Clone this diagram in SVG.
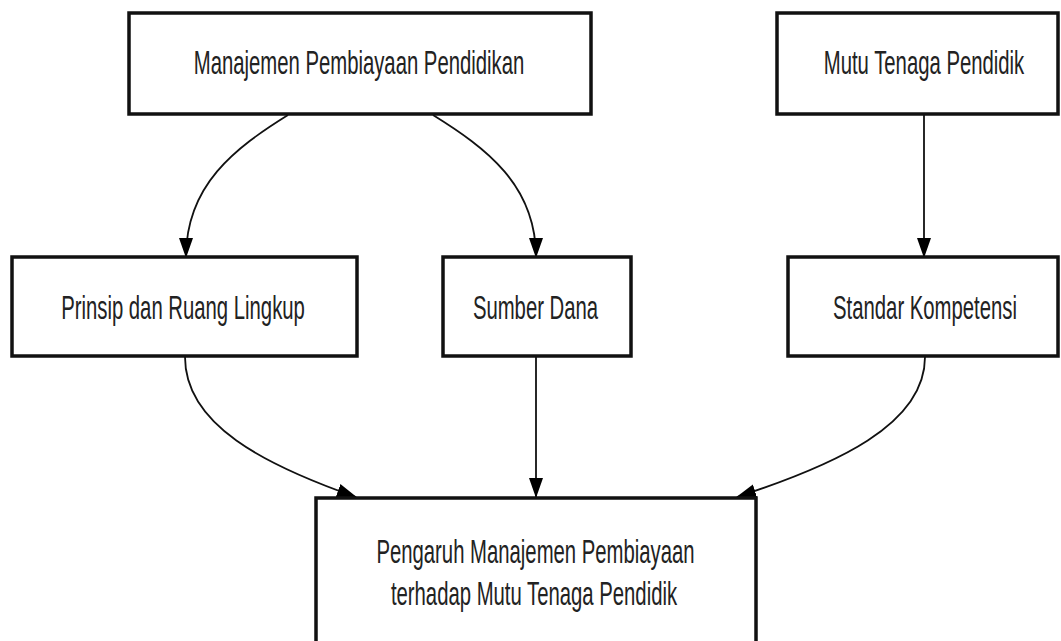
<svg xmlns="http://www.w3.org/2000/svg" width="1061" height="641" viewBox="0 0 1061 641">
<style>
.box{fill:#fff;stroke:#111;stroke-width:3.5}
.t{font-family:"Liberation Sans",Arial,sans-serif;font-size:20.3px;fill:#222;text-anchor:middle}
.c{fill:none;stroke:#111;stroke-width:1.8}
</style>
<defs>
<marker id="ah" markerUnits="userSpaceOnUse" markerWidth="22" markerHeight="16" refX="19" refY="7" orient="auto">
<path d="M0,0 L20,7 L0,14 z" fill="#000"/>
</marker>
</defs>
<rect width="1061" height="641" fill="#fff"/>
<g id="connectors">
<path class="c" d="M288,115 C235,148 186,185 186,257" marker-end="url(#ah)"/>
<path class="c" d="M433,115 C486,148 536,185 536,257" marker-end="url(#ah)"/>
<path class="c" d="M924,115 L924,257" marker-end="url(#ah)"/>
<path class="c" d="M185,357 C185,425 265,465 356,497" marker-end="url(#ah)"/>
<path class="c" d="M536,357 L536,497" marker-end="url(#ah)"/>
<path class="c" d="M925,357 C925,425 835,465 737,497" marker-end="url(#ah)"/>
</g>
<g id="n1"><rect class="box" x="129" y="13" width="462" height="101"/><text class="t" transform="translate(359,74) scale(1,1.65)">Manajemen Pembiayaan Pendidikan</text></g>
<g id="n2"><rect class="box" x="777" y="13" width="281" height="101"/><text class="t" transform="translate(924,74) scale(1,1.65)">Mutu Tenaga Pendidik</text></g>
<g id="n3"><rect class="box" x="12" y="257" width="345" height="99"/><text class="t" transform="translate(183,319) scale(1,1.65)">Prinsip dan Ruang Lingkup</text></g>
<g id="n4"><rect class="box" x="443" y="257" width="188" height="99"/><text class="t" transform="translate(535.5,319) scale(1,1.65)">Sumber Dana</text></g>
<g id="n5"><rect class="box" x="788" y="257" width="270" height="99"/><text class="t" transform="translate(925,319) scale(1,1.65)">Standar Kompetensi</text></g>
<g id="n6"><rect class="box" x="316" y="498" width="440" height="170"/><text class="t" transform="translate(535.5,563) scale(1,1.65)">Pengaruh Manajemen Pembiayaan</text><text class="t" transform="translate(534,605) scale(1,1.65)">terhadap Mutu Tenaga Pendidik</text></g>
</svg>
